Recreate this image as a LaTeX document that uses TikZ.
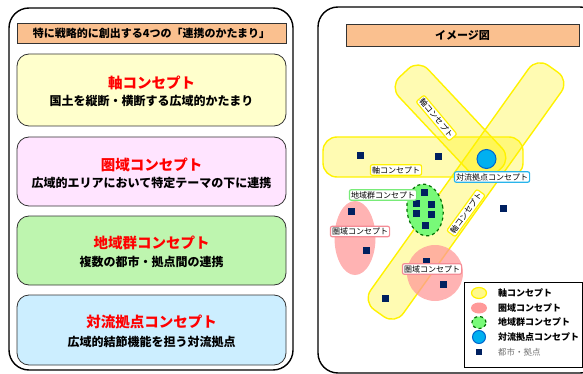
\documentclass[tikz,border=0pt]{standalone}
\usepackage{fontspec}
\setmainfont{Noto Sans CJK JP}
\usepackage{tikz}
\usetikzlibrary{shapes.geometric,positioning}

\begin{document}
\begin{tikzpicture}[
  x=1pt, y=-1pt,
  % --- panel styles ---
  panel/.style={draw=black, line width=1.4pt, rounded corners=20pt},
  ttl/.style={draw=black!80, fill=cPeach, line width=0.8pt,
              minimum height=20pt, inner sep=0pt,
              font=\fontsize{11}{13}\selectfont\bfseries},
  cbox/.style={draw=black!80, fill=#1, line width=0.8pt,
               rounded corners=12pt, minimum width=269pt, inner sep=0pt},
  head/.style={text=red, font=\fontsize{14.5}{16}\selectfont\bfseries},
  sub/.style={font=\fontsize{12}{14}\selectfont\bfseries},
  % --- image styles ---
  band/.style={draw=yellow, fill=yellow, fill opacity=0.3, line width=1.4pt,
               rounded corners=14pt, minimum height=40pt, inner sep=0pt},
  area/.style={ellipse, fill=cPink, fill opacity=0.75, inner sep=0pt},
  grp/.style={ellipse, draw=cDkGreen, dashed, line width=1.2pt,
              fill=cLime, inner sep=0pt},
  hub/.style={circle, draw=cBlueD, fill=cCyan, line width=1pt,
              minimum size=#1, inner sep=0pt},
  city/.style={fill=cNavy, minimum size=#1, inner sep=0pt},
  city/.default=7pt,
  tag/.style={draw=#1, fill=white, line width=1.2pt, rounded corners=2pt,
              inner sep=1.6pt, font=\fontsize{8}{9}\selectfont},
  lgd/.style={anchor=west, inner sep=0pt,
              font=\fontsize{9}{10}\selectfont\bfseries},
]
  % --- Colours ---
  \definecolor{cPeach}{RGB}{250,192,143}
  \definecolor{cYel}{RGB}{255,255,204}
  \definecolor{cRose}{RGB}{255,228,255}
  \definecolor{cMint}{RGB}{190,245,175}
  \definecolor{cSky}{RGB}{204,238,255}
  \definecolor{cPink}{RGB}{255,153,153}
  \definecolor{cLime}{RGB}{120,250,120}
  \definecolor{cDkGreen}{RGB}{0,110,0}
  \definecolor{cCyan}{RGB}{0,176,240}
  \definecolor{cBlueD}{RGB}{0,102,204}
  \definecolor{cNavy}{RGB}{0,32,96}
  \definecolor{cTagG}{RGB}{120,235,120}
  \definecolor{cTagP}{RGB}{245,140,150}
  \definecolor{cTagB}{RGB}{40,180,235}

  \useasboundingbox (0,0) rectangle (583,374);
  \clip (0,0) rectangle (583,374);

  % --- Left panel ---
  \def\bx{151.5}  % centre x of the boxes
  \draw[panel] (9,8) rectangle (293,370);
  \node[ttl, minimum width=269pt] (ttlL) at (\bx,33) {特に戦略的に創出する4つの「連携のかたまり」};

  \node[cbox=cYel,  minimum height=72pt] (boxAxis)  at (\bx,90)  {};
  \node[cbox=cRose, minimum height=69pt] (boxArea)  at (\bx,171.5) {};
  \node[cbox=cMint, minimum height=69pt] (boxGroup) at (\bx,250.5) {};
  \node[cbox=cSky,  minimum height=70pt] (boxHub)   at (\bx,330) {};

  \node[head] (hdAxis)  at (\bx,83)  {軸コンセプト};
  \node[sub]  (sbAxis)  at (\bx,101) {国土を縦断・横断する広域的かたまり};
  \node[head] (hdArea)  at (\bx,165) {圏域コンセプト};
  \node[sub]  (sbArea)  at (\bx,183) {広域的エリアにおいて特定テーマの下に連携};
  \node[head] (hdGroup) at (\bx,243) {地域群コンセプト};
  \node[sub]  (sbGroup) at (\bx,262) {複数の都市・拠点間の連携};
  \node[head] (hdHub)   at (\bx,322) {対流拠点コンセプト};
  \node[sub]  (sbHub)   at (\bx,342) {広域的結節機能を担う対流拠点};

  % --- Right panel ---
  \draw[panel] (318,7) rectangle (600,373);
  \node[ttl, minimum width=233pt, minimum height=22pt] (ttlR) at (462.5,35) {イメージ図};

  % --- Axis bands ---
  \node[band, minimum width=200pt] (axisH) at (423,157) {};
  \node[band, minimum width=136pt, rotate=-46.8] (axisA) at (450.5,122.5) {};
  \node[band, minimum width=300pt, rotate=54.5] (axisB) at (466,191) {};

  % --- Areas and group ---
  \node[area, minimum width=41pt, minimum height=74pt] (areaL) at (355,238) {};
  \node[area, minimum size=56pt] (areaR) at (435,273) {};
  \node[grp, minimum width=36pt, minimum height=52pt, rotate=8] (grpA) at (425,210) {};
  \node[hub=19pt] (hubA) at (486.5,159) {};

  % --- Cities ---
  \foreach \p [count=\i] in {(360,156),(438,157),(351,211),(366,250),
      (424,192),(416,203),(431,204),(416,213),(431,214),(425,225),
      (426,261),(443,284),(385,298),(503,208)}
    \node[city] (c\i) at \p {};

  % --- Tags ---
  \node[tag=yellow] (tgAxisH) at (396,170) {軸コンセプト};
  \node[tag=yellow, rotate=-50] (tgAxisA) at (436.5,118) {軸コンセプト};
  \node[tag=yellow, rotate=54] (tgAxisB) at (466,213) {軸コンセプト};
  \node[tag=cTagB] (tgHub) at (492,177) {対流拠点コンセプト};
  \node[tag=cTagG] (tgGroup) at (383,195) {地域群コンセプト};
  \node[tag=cTagP] (tgAreaL) at (360,231.5) {圏域コンセプト};
  \node[tag=cTagP] (tgAreaR) at (432,269) {圏域コンセプト};

  % --- Legend ---
  \draw[black, line width=0.9pt] (464,282) rectangle (582.5,367);
  \node[ellipse, draw=yellow, fill=yellow!45, line width=1.2pt,
        minimum width=15pt, minimum height=11pt, inner sep=0pt] (lgAxis) at (479,293) {};
  \node[ellipse, fill=cPink, minimum width=16pt, minimum height=11pt,
        inner sep=0pt] (lgArea) at (479,308) {};
  \node[grp, minimum width=14pt, minimum height=12pt] (lgGroup) at (479,322.5) {};
  \node[hub=13pt] (lgHub) at (479,337) {};
  \node[city=6pt] (lgCity) at (479,352) {};
  \node[lgd] (ltAxis)  at (498,293)   {軸コンセプト};
  \node[lgd] (ltArea)  at (498,308)   {圏域コンセプト};
  \node[lgd] (ltGroup) at (498,322.5) {地域群コンセプト};
  \node[lgd] (ltHub)   at (498,337)   {対流拠点コンセプト};
  \node[lgd, font=\fontsize{8.5}{10}\selectfont, text=black!55] (ltCity) at (498,352) {都市・拠点};
\end{tikzpicture}
\end{document}
